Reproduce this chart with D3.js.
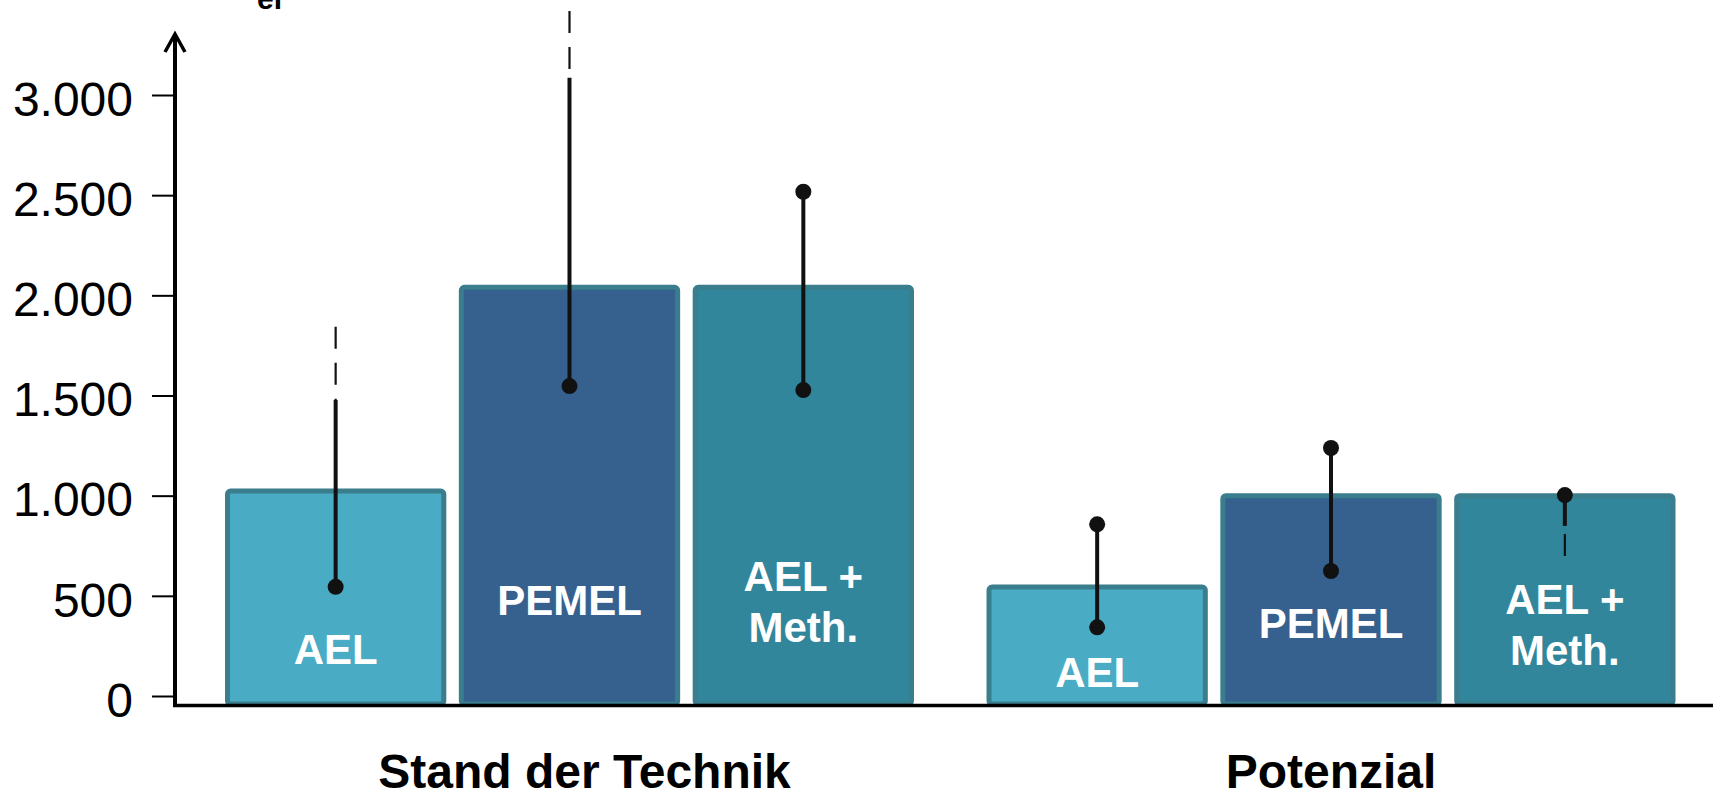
<!DOCTYPE html>
<html>
<head>
<meta charset="utf-8">
<script src="https://cdn.jsdelivr.net/npm/d3@7"></script>
<style>
  html, body { margin: 0; padding: 0; background: #fff; }
  svg { display: block; font-family: "Liberation Sans", Arial, sans-serif; }
</style>
</head>
<body>
<svg id="chart" width="1713" height="792"></svg>
<script>
// ---------------- data ----------------
const groups = ["Stand der Technik", "Potenzial"];
const series = ["AEL", "PEMEL", "AEL + Meth."];
const seriesLabelLines = [["AEL"], ["PEMEL"], ["AEL +", "Meth."]];
const yTicks = [0, 500, 1000, 1500, 2000, 2500, 3000];

const standValues = [1023, 2040, 2040];
const potenzialValues = [544, 1000, 1000];

// error bars: solid range, optional dashed extension, dots at ends
const standErrLow  = [545, 1547, 1527];
const standErrHigh = [1477, 3086, 2517];
const standDashTo  = [1843, 3419, null];
const standDotLow  = [true, true, true];
const standDotHigh = [false, false, true];

const potErrLow  = [343, 624, 849];
const potErrHigh = [857, 1238, 1003];
const potDashTo  = [null, null, 699];
const potDotLow  = [true, true, false];
const potDotHigh = [true, true, true];

const seriesColors = ["#4aabc5", "#36618f", "#32869b"];
const barStroke = "#3a7d8c";

// ---------------- build rows ----------------
const groupData = [
  { values: standValues, low: standErrLow, high: standErrHigh, dash: standDashTo, dl: standDotLow, dh: standDotHigh },
  { values: potenzialValues, low: potErrLow, high: potErrHigh, dash: potDashTo, dl: potDotLow, dh: potDotHigh }
];
const rows = [];
groups.forEach((g, gi) => {
  series.forEach((s, si) => {
    const gd = groupData[gi];
    rows.push({ group: g, gi, series: s, si, value: gd.values[si],
      low: gd.low[si], high: gd.high[si], dash: gd.dash[si], dotLow: gd.dl[si], dotHigh: gd.dh[si] });
  });
});

// ---------------- layout ----------------
const svg = d3.select("#chart");
const axisX = 175, baseY = 705.5;
const y = d3.scaleLinear().domain([0, 3000]).range([696, 95]);
const x0 = d3.scaleBand().domain(groups).range([227.5, 1673]).paddingInner(0.1018).paddingOuter(0);
const x1 = d3.scaleBand().domain(series).range([0, x0.bandwidth()]).paddingInner(0.075).paddingOuter(0);

const labelBase = [664, 615, 591];   // first-line baseline per series (group 1)
const groupLabelShift = [0, 23];     // vertical shift of in-bar labels per group
const groupTitleDx = [15, 0];

// bars
svg.append("g").selectAll("rect").data(rows).join("rect")
  .attr("x", d => x0(d.group) + x1(d.series))
  .attr("y", d => y(d.value))
  .attr("width", x1.bandwidth())
  .attr("height", d => baseY - 1.5 - y(d.value))
  .attr("rx", 3)
  .attr("fill", d => seriesColors[d.si])
  .attr("stroke", barStroke)
  .attr("stroke-width", 5);

// bar labels
const lbl = svg.append("g").selectAll("text").data(rows).join("text")
  .attr("text-anchor", "middle")
  .attr("font-size", 42)
  .attr("font-weight", "bold")
  .attr("fill", "#ffffff");
lbl.each(function(d) {
  const cx = x0(d.group) + x1(d.series) + x1.bandwidth() / 2;
  const t = d3.select(this);
  seriesLabelLines[d.si].forEach((line, li) => {
    t.append("tspan").attr("x", cx)
      .attr("y", labelBase[d.si] + groupLabelShift[d.gi] + li * 51)
      .text(line);
  });
});

// error bars
const eb = svg.append("g");
rows.forEach(d => {
  const cx = x0(d.group) + x1(d.series) + x1.bandwidth() / 2;
  if (d.dash != null) {
    const from = d.dash > d.high ? d.high : d.low;
    eb.append("line")
      .attr("x1", cx).attr("x2", cx)
      .attr("y1", y(d.dash)).attr("y2", y(from))
      .attr("stroke", "#111").attr("stroke-width", 2.2)
      .attr("stroke-dasharray", "22,14");
  }
  eb.append("line")
    .attr("x1", cx).attr("x2", cx)
    .attr("y1", y(d.low)).attr("y2", y(d.high))
    .attr("stroke", "#111").attr("stroke-width", 4);
  if (d.dotLow) eb.append("circle").attr("cx", cx).attr("cy", y(d.low)).attr("r", 8).attr("fill", "#111");
  if (d.dotHigh) eb.append("circle").attr("cx", cx).attr("cy", y(d.high)).attr("r", 8).attr("fill", "#111");
});

// y axis ticks
const de = d3.formatLocale({ decimal: ",", thousands: ".", grouping: [3], currency: ["", " €"] });
const yAxis = d3.axisLeft(y).tickValues(yTicks).tickFormat(de.format(",")).tickSize(23).tickPadding(19);
const ga = svg.append("g").attr("transform", `translate(${axisX},0)`).call(yAxis);
ga.select(".domain").remove();
ga.selectAll(".tick line").attr("stroke", "#000").attr("stroke-width", 2);
ga.selectAll(".tick text").attr("font-size", 48).attr("fill", "#000")
  .attr("font-family", "'Liberation Sans', Arial, sans-serif").attr("dy", "0.42em");

// axis lines
svg.append("line").attr("x1", axisX).attr("x2", axisX).attr("y1", 34).attr("y2", baseY + 1.5)
  .attr("stroke", "#000").attr("stroke-width", 4);
svg.append("path").attr("d", `M${axisX - 10},52 L${axisX},34 L${axisX + 10},52`)
  .attr("fill", "none").attr("stroke", "#000").attr("stroke-width", 3.5);
svg.append("line").attr("x1", axisX - 2).attr("x2", 1713).attr("y1", baseY).attr("y2", baseY)
  .attr("stroke", "#000").attr("stroke-width", 3.5);

// group labels
svg.append("g").selectAll("text").data(groups).join("text")
  .attr("x", (g, i) => x0(g) + x0.bandwidth() / 2 + groupTitleDx[i])
  .attr("y", 788)
  .attr("text-anchor", "middle")
  .attr("font-size", 48)
  .attr("font-weight", "bold")
  .attr("fill", "#000")
  .text(g => g);

// cut-off axis title subscript
svg.append("text").attr("x", 257).attr("y", 9)
  .attr("font-size", 30).attr("font-weight", "bold").attr("fill", "#000").text("el");
</script>
</body>
</html>
